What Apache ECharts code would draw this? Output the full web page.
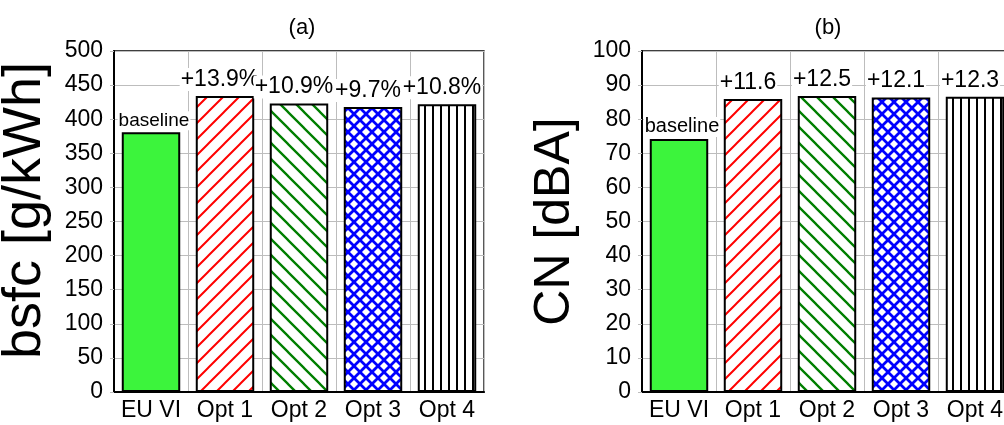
<!DOCTYPE html>
<html>
<head>
<meta charset="utf-8">
<script src="https://cdn.jsdelivr.net/npm/echarts@6/dist/echarts.min.js"></script>
<style>
  html, body { margin: 0; padding: 0; background: #fff; }
  #c { width: 1004px; height: 425px; }
</style>
</head>
<body>
<div id="c"></div>
<script>
// Engine variants
const categories = ['EU VI', 'Opt 1', 'Opt 2', 'Opt 3', 'Opt 4'];

// (a) brake specific fuel consumption, g/kWh
const bsfcValues = [381, 434, 423, 418, 422];
const bsfcLabels = ['baseline', '+13.9%', '+10.9%', '+9.7%', '+10.8%'];
const bsfcAxis = { min: 0, max: 500, interval: 50 };

// (b) combustion noise, dBA
const cnValues = [74.2, 85.9, 86.8, 86.4, 86.6];
const cnLabels = ['baseline', '+11.6', '+12.5', '+12.1', '+12.3'];
const cnAxis = { min: 0, max: 100, interval: 10 };

const FONT = '"Liberation Sans", Arial, Helvetica, sans-serif';
const GRID_GRAY = '#bdbdbd';

// Hatch tiles used as repeating pattern fills
function tile(w, h, draw) {
  const c = document.createElement('canvas');
  c.width = w; c.height = h;
  const g = c.getContext('2d');
  g.fillStyle = '#fff';
  g.fillRect(0, 0, w, h);
  draw(g, w, h);
  return { image: c, repeat: 'repeat' };
}
function diag(g, s, dir) {
  // dir 1: "/" lines, dir -1: "\" lines
  const segs = dir > 0
    ? [[-s, s * 2, s * 2, -s], [-s, s, s, -s], [0, s * 2, s * 2, 0]]
    : [[-s, -s, s * 2, s * 2], [-s, 0, s, s * 2], [0, -s, s * 2, s]];
  g.beginPath();
  segs.forEach(([x1, y1, x2, y2]) => { g.moveTo(x1, y1); g.lineTo(x2, y2); });
  g.stroke();
}
const fills = [
  '#3cf43c',
  tile(16, 16, (g, w) => { g.strokeStyle = '#ff0000'; g.lineWidth = 2; diag(g, w, 1); }),
  tile(16, 16, (g, w) => { g.strokeStyle = '#007f00'; g.lineWidth = 2.3; diag(g, w, -1); }),
  tile(12, 12, (g, w) => { g.strokeStyle = '#0000ff'; g.lineWidth = 2.8; diag(g, w, 1); diag(g, w, -1); }),
  tile(8, 8, (g) => { g.fillStyle = '#000'; g.fillRect(0, 0, 2, 8); })
];

function barData(values, labels, size, baseSize) {
  return values.map((v, i) => ({
    value: v,
    itemStyle: { color: fills[i] },
    label: i === 0
      ? { formatter: labels[i], fontSize: baseSize, distance: 2, offset: [3, 0] }
      : { formatter: labels[i], fontSize: size, distance: 5, offset: [-5, 0] }
  }));
}

const grids = [
  { left: 114, top: 51, width: 370, height: 341 },
  { left: 642, top: 51, width: 370, height: 341 }
];

function xAxis(idx) {
  return {
    type: 'category', gridIndex: idx, data: categories,
    axisLine: { show: true, lineStyle: { color: '#000', width: 2 } },
    axisTick: { show: false },
    axisLabel: { color: '#000', fontSize: 23, fontFamily: FONT, margin: 7, interval: 0 },
    splitLine: { show: true, interval: 0, lineStyle: { color: GRID_GRAY, width: 1 } }
  };
}
function yAxis(idx, cfg, name, nameSize, namePad) {
  return {
    type: 'value', gridIndex: idx, min: cfg.min, max: cfg.max, interval: cfg.interval,
    name: name, nameLocation: 'middle', nameGap: 62,
    nameTextStyle: { color: '#000', fontSize: nameSize, fontFamily: FONT, padding: namePad },
    axisLine: { show: true, lineStyle: { color: '#000', width: 2 } },
    axisTick: { show: true, length: 4, lineStyle: { color: GRID_GRAY } },
    axisLabel: { color: '#000', fontSize: 23, fontFamily: FONT, margin: 11 },
    splitLine: { show: true, lineStyle: { color: GRID_GRAY, width: 1 } }
  };
}
function series(idx, values, labels, size, baseSize) {
  return {
    type: 'bar', xAxisIndex: idx, yAxisIndex: idx,
    barWidth: '79%',
    data: barData(values, labels, size, baseSize),
    itemStyle: { borderColor: '#000', borderWidth: 2 },
    label: {
      show: true, position: 'top', color: '#000', fontFamily: FONT,
      backgroundColor: '#fff', padding: [0, 1]
    },
    z: 3
  };
}

const chart = echarts.init(document.getElementById('c'), null, { renderer: 'canvas' });
chart.setOption({
  animation: false,
  backgroundColor: '#fff',
  title: [
    { text: '(a)', left: 297, top: 12, textAlign: 'center',
      textStyle: { fontSize: 22, fontWeight: 'normal', color: '#000', fontFamily: FONT } },
    { text: '(b)', left: 823, top: 12, textAlign: 'center',
      textStyle: { fontSize: 22, fontWeight: 'normal', color: '#000', fontFamily: FONT } }
  ],
  grid: grids.map(g => Object.assign({
    show: true, borderColor: '#000', borderWidth: 1.3, backgroundColor: 'transparent',
    containLabel: false, outerBoundsMode: 'none'
  }, g)),
  xAxis: [xAxis(0), xAxis(1)],
  yAxis: [
    yAxis(0, bsfcAxis, 'bsfc [g/kWh]', 54, [0, 0, 0, 22]),
    yAxis(1, cnAxis, 'CN [dBA]', 50, 0)
  ],
  series: [
    series(0, bsfcValues, bsfcLabels, 23, 19),
    series(1, cnValues, cnLabels, 23, 20)
  ]
});
</script>
</body>
</html>
